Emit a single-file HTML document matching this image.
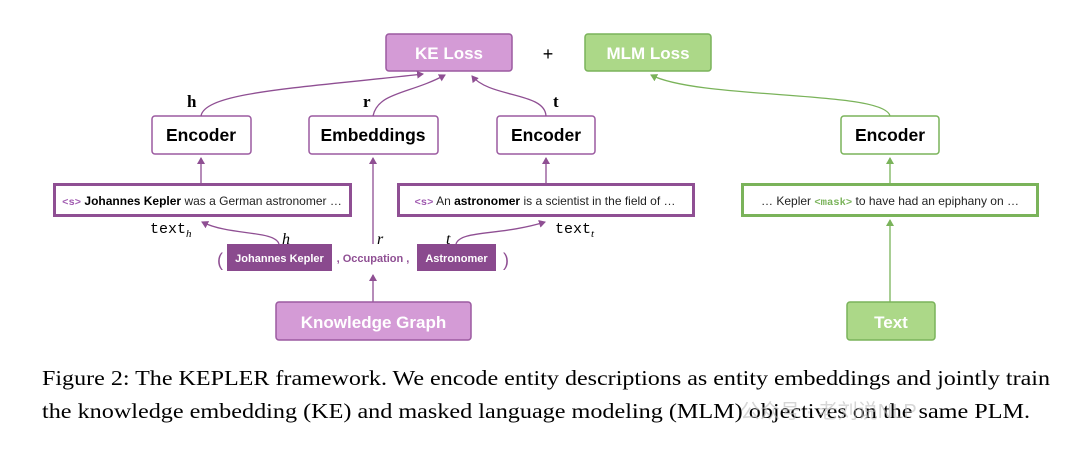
<!DOCTYPE html>
<html><head><meta charset="utf-8"><style>
html,body{margin:0;padding:0;background:#fff;}
svg{display:block;}
</style></head><body>
<svg width="1080" height="450" viewBox="0 0 1080 450" xmlns="http://www.w3.org/2000/svg" font-family="Liberation Sans, Arial, sans-serif">
<defs>
<marker id="ap" markerWidth="8" markerHeight="8" refX="6" refY="4" orient="auto" markerUnits="userSpaceOnUse"><path d="M0,0 L7,4 L0,8 Z" fill="#8f4f93"/></marker>
<marker id="ag" markerWidth="8" markerHeight="8" refX="6" refY="4" orient="auto" markerUnits="userSpaceOnUse"><path d="M0,0 L7,4 L0,8 Z" fill="#7ab35a"/></marker>
</defs>
<rect x="386" y="34" width="126" height="37" rx="3" fill="#d49bd6" stroke="#9b5aa0" stroke-width="1.5"/>
<text x="449" y="59" text-anchor="middle" font-size="17" font-weight="bold" fill="#fff">KE Loss</text>
<text x="548" y="60" text-anchor="middle" font-size="18" fill="#000">+</text>
<rect x="585" y="34" width="126" height="37" rx="3" fill="#acd888" stroke="#7ab35a" stroke-width="1.5"/>
<text x="648" y="59" text-anchor="middle" font-size="17" font-weight="bold" fill="#fff">MLM Loss</text>
<g font-size="17.5" font-weight="bold" fill="#000" text-anchor="middle">
<rect x="152" y="116" width="99" height="38" rx="3" fill="#fff" stroke="#9b5aa0" stroke-width="1.5"/>
<text x="201" y="141">Encoder</text>
<rect x="309" y="116" width="129" height="38" rx="3" fill="#fff" stroke="#9b5aa0" stroke-width="1.5"/>
<text x="373" y="141">Embeddings</text>
<rect x="497" y="116" width="98" height="38" rx="3" fill="#fff" stroke="#9b5aa0" stroke-width="1.5"/>
<text x="546" y="141">Encoder</text>
<rect x="841" y="116" width="98" height="38" rx="3" fill="#fff" stroke="#7ab35a" stroke-width="1.5"/>
<text x="890" y="141">Encoder</text>
</g>
<g font-family="Liberation Serif, serif" font-weight="bold" font-size="17">
<text x="187" y="107">h</text><text x="363" y="107">r</text><text x="553" y="107">t</text>
</g>
<path d="M201,116 C205,92 300,88 423,74" fill="none" stroke="#8f4f93" stroke-width="1.3" marker-end="url(#ap)"/>
<path d="M373,116 C378,92 410,94 445,75" fill="none" stroke="#8f4f93" stroke-width="1.3" marker-end="url(#ap)"/>
<path d="M546,116 C545,92 490,98 472,76" fill="none" stroke="#8f4f93" stroke-width="1.3" marker-end="url(#ap)"/>
<path d="M890,116 C885,90 700,100 651,75" fill="none" stroke="#7ab35a" stroke-width="1.3" marker-end="url(#ag)"/>
<rect x="54.5" y="184.5" width="296" height="31" fill="#fff" stroke="#8f4f93" stroke-width="3"/>
<text x="202" y="205" text-anchor="middle" font-size="12" fill="#222"><tspan font-family="Liberation Mono, monospace" font-weight="bold" fill="#a05ab0" font-size="10.5">&lt;s&gt;</tspan> <tspan font-weight="bold" fill="#000">Johannes Kepler</tspan> was a German astronomer …</text>
<rect x="398.5" y="184.5" width="295" height="31" fill="#fff" stroke="#8f4f93" stroke-width="3"/>
<text x="545" y="205" text-anchor="middle" font-size="12" fill="#222"><tspan font-family="Liberation Mono, monospace" font-weight="bold" fill="#a05ab0" font-size="10.5">&lt;s&gt;</tspan> An <tspan font-weight="bold" fill="#000">astronomer</tspan> is a scientist in the field of  …</text>
<rect x="742.5" y="184.5" width="295" height="31" fill="#fff" stroke="#7ab35a" stroke-width="3"/>
<text x="890" y="205" text-anchor="middle" font-size="12" fill="#222">… Kepler <tspan font-family="Liberation Mono, monospace" font-weight="bold" fill="#7ab35a" font-size="10.5">&lt;mask&gt;</tspan> to have had an epiphany on …</text>
<line x1="201" y1="183" x2="201" y2="158" stroke="#8f4f93" stroke-width="1.3" marker-end="url(#ap)"/>
<line x1="546" y1="183" x2="546" y2="158" stroke="#8f4f93" stroke-width="1.3" marker-end="url(#ap)"/>
<line x1="890" y1="183" x2="890" y2="158" stroke="#7ab35a" stroke-width="1.3" marker-end="url(#ag)"/>
<line x1="373" y1="244" x2="373" y2="158" stroke="#8f4f93" stroke-width="1.3" marker-end="url(#ap)"/>
<line x1="890" y1="302" x2="890" y2="220" stroke="#7ab35a" stroke-width="1.3" marker-end="url(#ag)"/>
<line x1="373" y1="302" x2="373" y2="275" stroke="#8f4f93" stroke-width="1.3" marker-end="url(#ap)"/>
<text x="150" y="233" font-family="Liberation Mono, monospace" font-size="15" fill="#000">text<tspan font-family="Liberation Serif, serif" font-style="italic" font-size="11" dy="4">h</tspan></text>
<text x="555" y="233" font-family="Liberation Mono, monospace" font-size="15" fill="#000">text<tspan font-family="Liberation Serif, serif" font-style="italic" font-size="11" dy="4">t</tspan></text>
<g font-family="Liberation Serif, serif" font-style="italic" font-size="16" fill="#000">
<text x="282" y="244">h</text><text x="377" y="244">r</text><text x="446" y="244">t</text>
</g>
<path d="M279,244 C275,230 230,236 202,222" fill="none" stroke="#8f4f93" stroke-width="1.3" marker-end="url(#ap)"/>
<path d="M456,244 C460,230 500,236 545,222" fill="none" stroke="#8f4f93" stroke-width="1.3" marker-end="url(#ap)"/>
<text x="217" y="266" font-size="18" fill="#8f4f93">(</text>
<rect x="227" y="244" width="105" height="27" fill="#8a4a8e"/>
<text x="279.5" y="262" text-anchor="middle" font-size="11" font-weight="bold" fill="#fff">Johannes Kepler</text>
<text x="373" y="262" text-anchor="middle" font-size="11" font-weight="bold" fill="#8f4f93">, Occupation ,</text>
<rect x="417" y="244" width="79" height="27" fill="#8a4a8e"/>
<text x="456.5" y="262" text-anchor="middle" font-size="11" font-weight="bold" fill="#fff">Astronomer</text>
<text x="503" y="266" font-size="18" fill="#8f4f93">)</text>
<rect x="276" y="302" width="195" height="38" rx="3" fill="#d49bd6" stroke="#9b5aa0" stroke-width="1.5"/>
<text x="373.5" y="328" text-anchor="middle" font-size="17" font-weight="bold" fill="#fff">Knowledge Graph</text>
<rect x="847" y="302" width="88" height="38" rx="3" fill="#acd888" stroke="#7ab35a" stroke-width="1.5"/>
<text x="891" y="328" text-anchor="middle" font-size="17" font-weight="bold" fill="#fff">Text</text>
<g font-family="Liberation Serif, serif" font-size="21.5" fill="#000">
<text x="42" y="385" textLength="1008" lengthAdjust="spacingAndGlyphs">Figure 2: The KEPLER framework. We encode entity descriptions as entity embeddings and jointly train</text>
<text x="42" y="418" textLength="988" lengthAdjust="spacingAndGlyphs">the knowledge embedding (KE) and masked language modeling (MLM) objectives on the same PLM.</text>
</g>
<text x="740" y="418" font-family="Liberation Sans, Noto Sans CJK SC, sans-serif" font-size="20" fill="#bbb" opacity="0.6">公众号 · 老刘说NLP</text>
</svg>
</body></html>
